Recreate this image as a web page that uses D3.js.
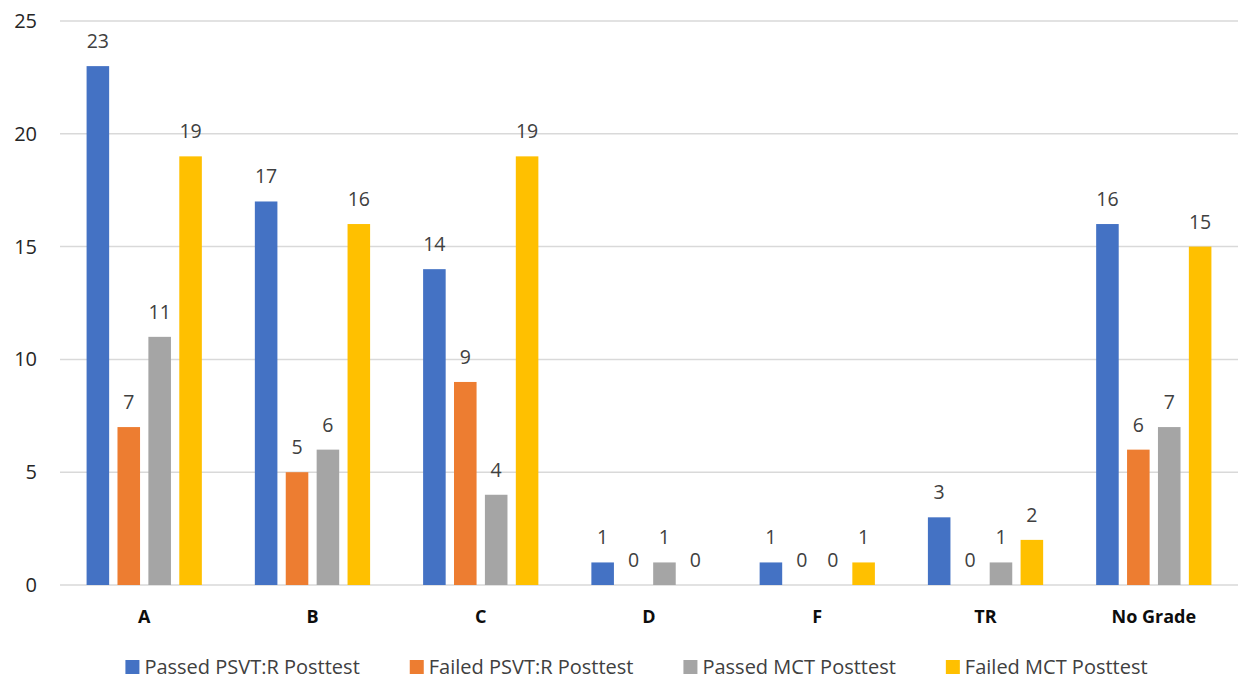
<!DOCTYPE html>
<html lang="en">
<head>
    <meta charset="UTF-8">
    <title>Grades by Posttest Result</title>
    <style>
        body {
            margin: 0;
            padding: 0;
            background-color: #fff;
            font-family: "Open Sans", Arial, sans-serif;
        }
    </style>
</head>
<body>

<svg width="1241" height="681" id="chart"></svg>

<script src="https://d3js.org/d3.v7.min.js"></script>
<script>
    const categories = ["A", "B", "C", "D", "F", "TR", "No Grade"];
    const seriesNames = ["Passed PSVT:R Posttest", "Failed PSVT:R Posttest", "Passed MCT Posttest", "Failed MCT Posttest"];
    const passedPsvt = [23, 17, 14, 1, 1, 3, 16];
    const failedPsvt = [7, 5, 9, 0, 0, 0, 6];
    const passedMct = [11, 6, 4, 1, 0, 1, 7];
    const failedMct = [19, 16, 19, 0, 1, 2, 15];
    const yTicks = [0, 5, 10, 15, 20, 25];
    const colors = ["#4472C4", "#ED7D31", "#A5A5A5", "#FFC000"];

    const seriesValues = [passedPsvt, failedPsvt, passedMct, failedMct];

    const svg = d3.select("#chart");
    const margin = { top: 21, right: 3, bottom: 96, left: 60 };
    const width = 1241 - margin.left - margin.right;
    const height = 681 - margin.top - margin.bottom;

    const g = svg.append("g")
        .attr("transform", `translate(${margin.left},${margin.top})`);

    const x0 = d3.scaleBand()
        .domain(categories)
        .range([0, width])
        .paddingInner(0.315)
        .paddingOuter(0.158);

    const x1 = d3.scaleBand()
        .domain(d3.range(seriesNames.length))
        .range([0, x0.bandwidth()])
        .paddingInner(0.27);

    const y = d3.scaleLinear()
        .domain([0, 25])
        .range([height, 0]);

    // gridlines
    g.append("g")
        .selectAll("line")
        .data(yTicks)
        .enter().append("line")
        .attr("x1", 0)
        .attr("x2", width)
        .attr("y1", d => y(d))
        .attr("y2", d => y(d))
        .attr("stroke", "#d9d9d9")
        .attr("stroke-width", 1.5);

    // y-axis labels
    const yAxis = g.append("g")
        .call(d3.axisLeft(y).tickValues(yTicks).tickSize(0).tickPadding(23));
    yAxis.select(".domain").remove();
    yAxis.selectAll("text")
        .attr("font-size", 20)
        .attr("font-family", "'Open Sans', Arial, sans-serif")
        .attr("fill", "#262626");

    // bars + labels
    const rows = categories.map((c, i) => ({
        cat: c,
        vals: seriesValues.map((s, k) => ({ k: k, v: s[i] }))
    }));

    const groups = g.selectAll(".grp")
        .data(rows)
        .enter().append("g")
        .attr("transform", d => `translate(${x0(d.cat)},0)`);

    groups.selectAll("rect")
        .data(d => d.vals)
        .enter().append("rect")
        .attr("x", d => x1(d.k))
        .attr("y", d => y(d.v))
        .attr("width", x1.bandwidth())
        .attr("height", d => height - y(d.v))
        .attr("fill", d => colors[d.k]);

    groups.selectAll("text")
        .data(d => d.vals)
        .enter().append("text")
        .attr("x", d => x1(d.k) + x1.bandwidth() / 2)
        .attr("y", d => y(d.v) - 18)
        .attr("text-anchor", "middle")
        .attr("font-size", 19.5)
        .attr("fill", "#404040")
        .text(d => d.v);

    // x-axis labels
    const xAxis = g.append("g")
        .attr("transform", `translate(0,${height})`)
        .call(d3.axisBottom(x0).tickSize(0).tickPadding(25));
    xAxis.select(".domain").remove();
    xAxis.selectAll("text")
        .attr("font-size", 18)
        .attr("font-weight", "bold")
        .attr("font-family", "'Open Sans', Arial, sans-serif")
        .attr("fill", "#0d0d0d");

    // legend
    const legend = svg.append("g");
    const items = legend.selectAll("g")
        .data(seriesNames)
        .enter().append("g");
    items.append("rect")
        .attr("width", 14)
        .attr("height", 14)
        .attr("y", -14)
        .attr("fill", (d, i) => colors[i]);
    items.append("text")
        .attr("x", 19)
        .attr("font-size", 20)
        .attr("fill", "#404040")
        .text(d => d);

    const gap = 50;
    let offset = 0;
    items.each(function () {
        const w = this.getBBox().width;
        d3.select(this).attr("transform", `translate(${offset},674)`);
        offset += w + gap;
    });
    const total = offset - gap;
    legend.attr("transform", `translate(${126 + (1147 - 126 - total) / 2},0)`);
</script>

</body>
</html>
